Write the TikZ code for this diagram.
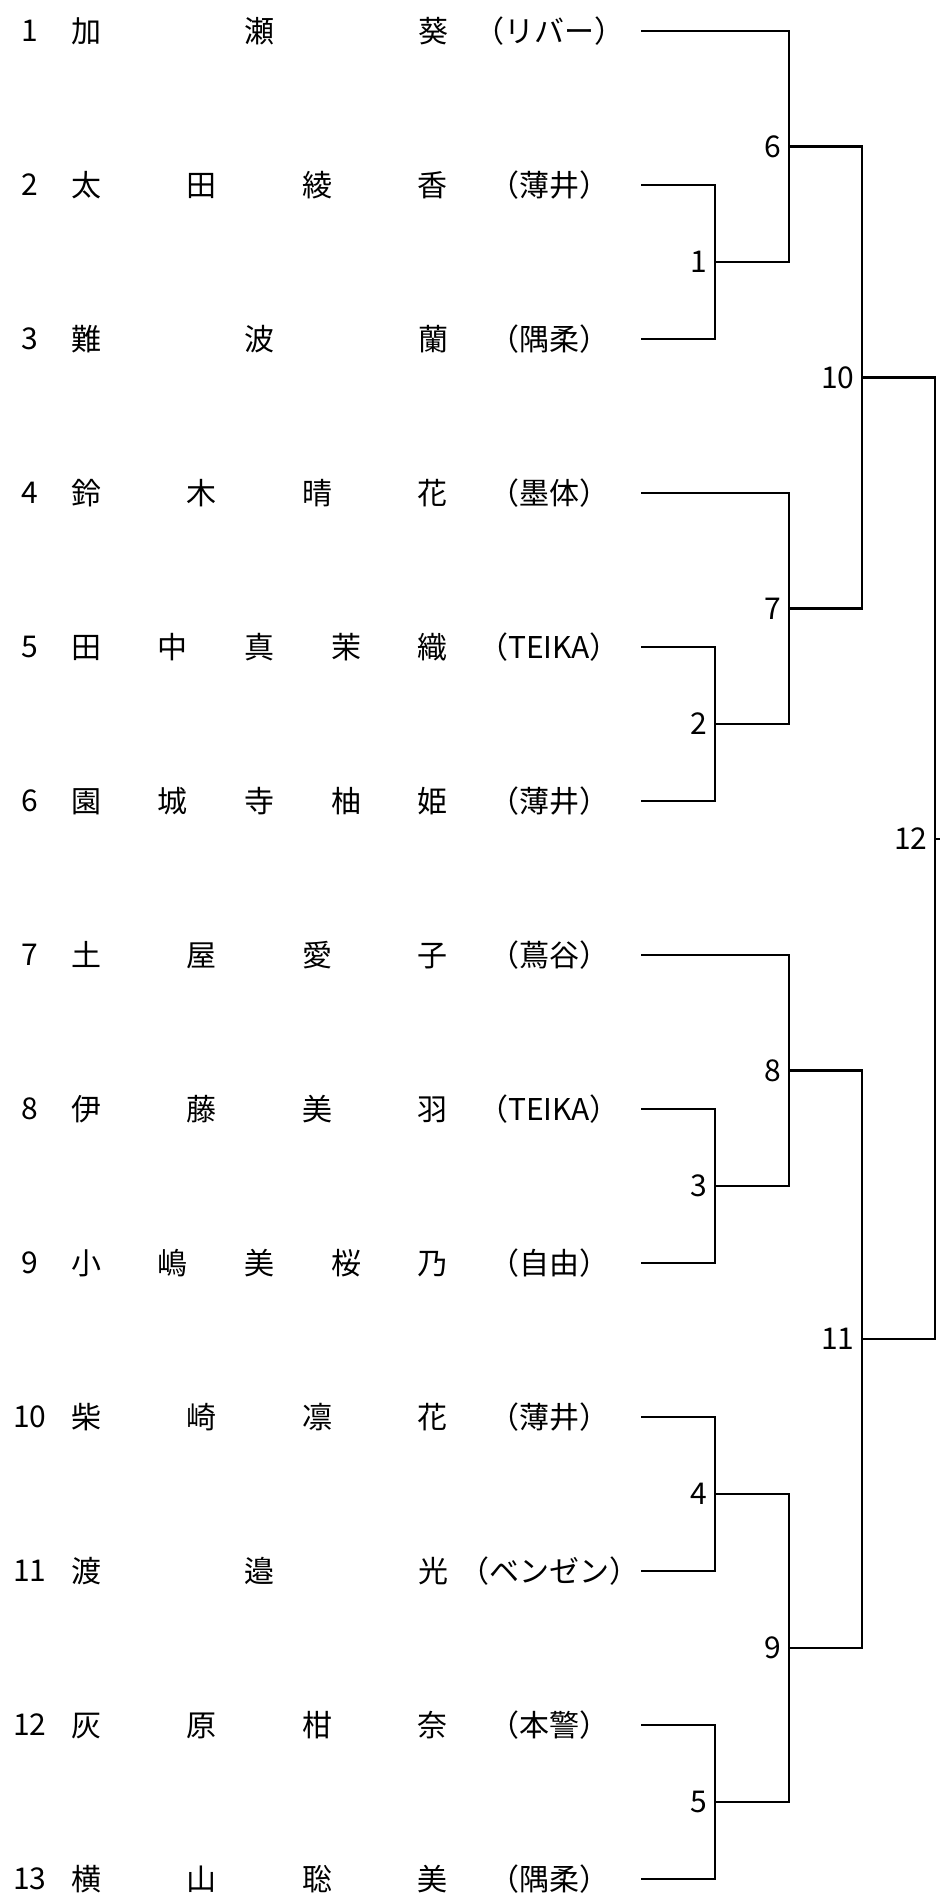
\documentclass[tikz,border=0pt]{standalone}
\usepackage{fontspec}
\setmainfont{Noto Sans CJK JP}
\newcommand{\spreadname}[1]{\makebox[188.5pt][s]{#1}}

\begin{document}
\begin{tikzpicture}[x=0.5pt,y=-0.5pt,
  every node/.style={font=\fontsize{15pt}{17pt}\selectfont,inner sep=0pt},
  bline/.style={line width=1.3pt},
  mlabel/.style={anchor=east,inner xsep=3.5pt}]
\useasboundingbox (0,0) rectangle (940,1896);

% players
\node (k1) at (30,31) {1};
\node (n1) at (259.5,31) {\spreadname{加\hfill 瀬\hfill 葵}};
\node (t1) at (549,31) {（リバー）};
\coordinate (p1) at (641,31);

\node (k2) at (30,185) {2};
\node (n2) at (259.5,185) {\spreadname{太\hfill 田\hfill 綾\hfill 香}};
\node (t2) at (549,185) {（薄井）};
\coordinate (p2) at (641,185);

\node (k3) at (30,339) {3};
\node (n3) at (259.5,339) {\spreadname{難\hfill 波\hfill 蘭}};
\node (t3) at (549,339) {（隅柔）};
\coordinate (p3) at (641,339);

\node (k4) at (30,493) {4};
\node (n4) at (259.5,493) {\spreadname{鈴\hfill 木\hfill 晴\hfill 花}};
\node (t4) at (549,493) {（墨体）};
\coordinate (p4) at (641,493);

\node (k5) at (30,647) {5};
\node (n5) at (259.5,647) {\spreadname{田\hfill 中\hfill 真\hfill 茉\hfill 織}};
\node (t5) at (549,647) {（TEIKA）};
\coordinate (p5) at (641,647);

\node (k6) at (30,801) {6};
\node (n6) at (259.5,801) {\spreadname{園\hfill 城\hfill 寺\hfill 柚\hfill 姫}};
\node (t6) at (549,801) {（薄井）};
\coordinate (p6) at (641,801);

\node (k7) at (30,955) {7};
\node (n7) at (259.5,955) {\spreadname{土\hfill 屋\hfill 愛\hfill 子}};
\node (t7) at (549,955) {（蔦谷）};
\coordinate (p7) at (641,955);

\node (k8) at (30,1109) {8};
\node (n8) at (259.5,1109) {\spreadname{伊\hfill 藤\hfill 美\hfill 羽}};
\node (t8) at (549,1109) {（TEIKA）};
\coordinate (p8) at (641,1109);

\node (k9) at (30,1263) {9};
\node (n9) at (259.5,1263) {\spreadname{小\hfill 嶋\hfill 美\hfill 桜\hfill 乃}};
\node (t9) at (549,1263) {（自由）};
\coordinate (p9) at (641,1263);

\node (k10) at (30,1417) {10};
\node (n10) at (259.5,1417) {\spreadname{柴\hfill 崎\hfill 凛\hfill 花}};
\node (t10) at (549,1417) {（薄井）};
\coordinate (p10) at (641,1417);

\node (k11) at (30,1571) {11};
\node (n11) at (259.5,1571) {\spreadname{渡\hfill 邉\hfill 光}};
\node (t11) at (549,1571) {（ベンゼン）};
\coordinate (p11) at (641,1571);

\node (k12) at (30,1725) {12};
\node (n12) at (259.5,1725) {\spreadname{灰\hfill 原\hfill 柑\hfill 奈}};
\node (t12) at (549,1725) {（本警）};
\coordinate (p12) at (641,1725);

\node (k13) at (30,1879) {13};
\node (n13) at (259.5,1879) {\spreadname{横\hfill 山\hfill 聡\hfill 美}};
\node (t13) at (549,1879) {（隅柔）};
\coordinate (p13) at (641,1879);

% match points
\coordinate (m1) at (715,262);
\coordinate (m2) at (715,724);
\coordinate (m3) at (715,1186);
\coordinate (m4) at (715,1494);
\coordinate (m5) at (715,1802);
\coordinate (m6) at (789,146.5);
\coordinate (m7) at (789,608.5);
\coordinate (m8) at (789,1070.5);
\coordinate (m9) at (789,1648);
\coordinate (m10) at (862,377.5);
\coordinate (m11) at (862,1339);
\coordinate (m12) at (935,839);
\coordinate (m12e) at (940,839);

% first round
\draw[bline] (p2) -| (m1) |- (p3);
\draw[bline] (p5) -| (m2) |- (p6);
\draw[bline] (p8) -| (m3) |- (p9);
\draw[bline] (p10) -| (m4) |- (p11);
\draw[bline] (p12) -| (m5) |- (p13);

% second round
\draw[bline] (p1) -| (m6) |- (m1);
\draw[bline] (p4) -| (m7) |- (m2);
\draw[bline] (p7) -| (m8) |- (m3);
\draw[bline] (m4) -| (m9) |- (m5);

% semis and final
\draw[bline] (m6) -| (m10) |- (m7);
\draw[bline] (m8) -| (m11) |- (m9);
\draw[bline] (m10) -| (m12) |- (m11);
\draw[bline] (m12) -- (m12e);

\node[mlabel] (l1) at (m1) {1};
\node[mlabel] (l2) at (m2) {2};
\node[mlabel] (l3) at (m3) {3};
\node[mlabel] (l4) at (m4) {4};
\node[mlabel] (l5) at (m5) {5};
\node[mlabel] (l6) at (m6) {6};
\node[mlabel] (l7) at (m7) {7};
\node[mlabel] (l8) at (m8) {8};
\node[mlabel] (l9) at (m9) {9};
\node[mlabel] (l10) at (m10) {10};
\node[mlabel] (l11) at (m11) {11};
\node[mlabel] (l12) at (m12) {12};
\end{tikzpicture}
\end{document}
